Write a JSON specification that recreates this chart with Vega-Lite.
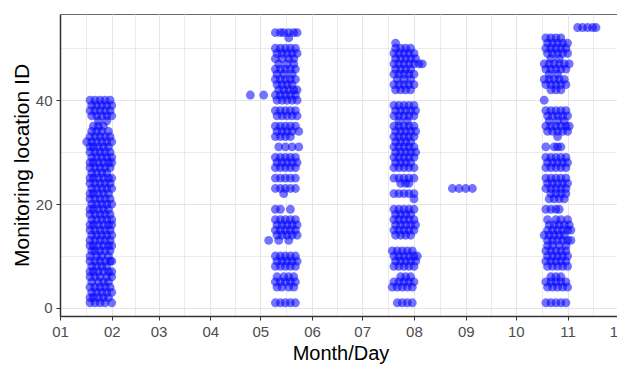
{
  "$schema": "https://vega.github.io/schema/vega-lite/v6.json",
  "width": 561,
  "height": 302,
  "autosize": {"type": "none"},
  "padding": {"left": 60, "top": 14, "right": 0, "bottom": 51},
  "background": "white",
  "config": {
    "font": "Liberation Sans",
    "view": {"stroke": "#6b6b6b", "strokeWidth": 1},
    "axis": {
      "domainColor": "#333333",
      "domainWidth": 1.5,
      "tickColor": "#333333",
      "tickSize": 4,
      "tickWidth": 1,
      "gridColor": "#e6e6e6",
      "gridWidth": 1,
      "labelFont": "Liberation Sans",
      "labelFontSize": 15,
      "labelColor": "#4d4d4d",
      "labelPadding": 4,
      "labelOverlap": false,
      "labelFlush": false,
      "labelBound": false,
      "titleFont": "Liberation Sans",
      "titleFontSize": 20,
      "titleFontWeight": "normal",
      "titleColor": "#000000"
    }
  },
  "data": {
    "values": [
      {"day":18,"id":1},{"day":21,"id":1},{"day":24,"id":1},{"day":27,"id":1},{"day":31,"id":1},
      {"day":18,"id":2},{"day":20,"id":2},{"day":23,"id":2},{"day":26,"id":2},{"day":29,"id":2},
      {"day":19,"id":3},{"day":22,"id":3},{"day":25,"id":3},{"day":28,"id":3},{"day":31,"id":3},
      {"day":18,"id":4},{"day":21,"id":4},{"day":24,"id":4},{"day":27,"id":4},{"day":30,"id":4},
      {"day":19,"id":5},{"day":23,"id":5},{"day":26,"id":5},{"day":29,"id":5},
      {"day":18,"id":6},{"day":21,"id":6},{"day":24,"id":6},{"day":28,"id":6},{"day":31,"id":6},
      {"day":18,"id":7},{"day":20,"id":7},{"day":23,"id":7},{"day":26,"id":7},{"day":29,"id":7},{"day":31,"id":7},
      {"day":19,"id":8},{"day":22,"id":8},{"day":25,"id":8},{"day":28,"id":8},
      {"day":18,"id":9},{"day":21,"id":9},{"day":24,"id":9},{"day":27,"id":9},{"day":30,"id":9},{"day":31,"id":9},
      {"day":18,"id":10},{"day":22,"id":10},{"day":25,"id":10},{"day":29,"id":10},
      {"day":19,"id":11},{"day":21,"id":11},{"day":24,"id":11},{"day":27,"id":11},{"day":30,"id":11},
      {"day":18,"id":12},{"day":20,"id":12},{"day":23,"id":12},{"day":26,"id":12},{"day":29,"id":12},{"day":31,"id":12},
      {"day":18,"id":13},{"day":21,"id":13},{"day":24,"id":13},{"day":27,"id":13},{"day":30,"id":13},
      {"day":19,"id":14},{"day":22,"id":14},{"day":25,"id":14},{"day":28,"id":14},{"day":31,"id":14},
      {"day":18,"id":15},{"day":21,"id":15},{"day":24,"id":15},{"day":27,"id":15},{"day":30,"id":15},
      {"day":18,"id":16},{"day":20,"id":16},{"day":23,"id":16},{"day":26,"id":16},{"day":29,"id":16},{"day":31,"id":16},
      {"day":19,"id":17},{"day":22,"id":17},{"day":25,"id":17},{"day":28,"id":17},{"day":31,"id":17},
      {"day":18,"id":18},{"day":21,"id":18},{"day":24,"id":18},{"day":27,"id":18},{"day":30,"id":18},
      {"day":18,"id":19},{"day":20,"id":19},{"day":23,"id":19},{"day":26,"id":19},{"day":29,"id":19},
      {"day":19,"id":20},{"day":22,"id":20},{"day":25,"id":20},{"day":28,"id":20},{"day":31,"id":20},
      {"day":18,"id":21},{"day":21,"id":21},{"day":24,"id":21},{"day":27,"id":21},{"day":30,"id":21},
      {"day":18,"id":22},{"day":20,"id":22},{"day":23,"id":22},{"day":26,"id":22},{"day":29,"id":22},
      {"day":19,"id":23},{"day":22,"id":23},{"day":25,"id":23},{"day":28,"id":23},{"day":31,"id":23},
      {"day":18,"id":24},{"day":21,"id":24},{"day":24,"id":24},{"day":27,"id":24},{"day":30,"id":24},
      {"day":18,"id":25},{"day":20,"id":25},{"day":23,"id":25},{"day":26,"id":25},{"day":29,"id":25},{"day":31,"id":25},
      {"day":19,"id":26},{"day":22,"id":26},{"day":25,"id":26},{"day":28,"id":26},
      {"day":18,"id":27},{"day":21,"id":27},{"day":24,"id":27},{"day":27,"id":27},{"day":30,"id":27},
      {"day":18,"id":28},{"day":20,"id":28},{"day":23,"id":28},{"day":26,"id":28},{"day":29,"id":28},{"day":31,"id":28},
      {"day":19,"id":29},{"day":22,"id":29},{"day":25,"id":29},{"day":28,"id":29},{"day":31,"id":29},
      {"day":18,"id":30},{"day":21,"id":30},{"day":24,"id":30},{"day":27,"id":30},{"day":30,"id":30},
      {"day":18,"id":31},{"day":20,"id":31},{"day":23,"id":31},{"day":26,"id":31},{"day":29,"id":31},
      {"day":16,"id":32},{"day":19,"id":32},{"day":22,"id":32},{"day":25,"id":32},{"day":28,"id":32},{"day":31,"id":32},
      {"day":18,"id":33},{"day":21,"id":33},{"day":24,"id":33},{"day":27,"id":33},{"day":30,"id":33},
      {"day":19,"id":34},{"day":22,"id":34},{"day":25,"id":34},{"day":29,"id":34},
      {"day":20,"id":35},{"day":23,"id":35},{"day":26,"id":35},
      {"day":23,"id":36},{"day":28,"id":36},
      {"day":19,"id":37},{"day":22,"id":37},{"day":25,"id":37},{"day":28,"id":37},{"day":31,"id":37},
      {"day":18,"id":38},{"day":21,"id":38},{"day":24,"id":38},{"day":27,"id":38},{"day":30,"id":38},
      {"day":19,"id":39},{"day":22,"id":39},{"day":25,"id":39},{"day":28,"id":39},{"day":31,"id":39},
      {"day":18,"id":40},{"day":21,"id":40},{"day":24,"id":40},{"day":27,"id":40},{"day":30,"id":40},

      {"day":114,"id":41},{"day":122,"id":41},{"day":125,"id":13},
      {"day":129,"id":53},{"day":132,"id":53},{"day":134,"id":53},{"day":137,"id":53},{"day":140,"id":53},{"day":142,"id":53},
      {"day":137,"id":52},
      {"day":129,"id":50},{"day":132,"id":50},{"day":135,"id":50},{"day":138,"id":50},{"day":141,"id":50},
      {"day":130,"id":49},{"day":133,"id":49},{"day":136,"id":49},{"day":139,"id":49},{"day":142,"id":49},
      {"day":129,"id":48},{"day":133,"id":48},{"day":137,"id":48},{"day":140,"id":48},
      {"day":131,"id":47},{"day":136,"id":47},{"day":140,"id":47},
      {"day":129,"id":46},{"day":132,"id":46},{"day":135,"id":46},{"day":138,"id":46},{"day":141,"id":46},
      {"day":130,"id":45},{"day":134,"id":45},{"day":139,"id":45},
      {"day":129,"id":44},{"day":132,"id":44},{"day":135,"id":44},{"day":138,"id":44},{"day":141,"id":44},
      {"day":130,"id":43},{"day":133,"id":43},{"day":136,"id":43},{"day":139,"id":43},
      {"day":131,"id":42},{"day":134,"id":42},{"day":137,"id":42},{"day":140,"id":42},{"day":142,"id":42},
      {"day":129,"id":41},{"day":132,"id":41},{"day":135,"id":41},{"day":138,"id":41},{"day":141,"id":41},
      {"day":130,"id":40},{"day":133,"id":40},{"day":136,"id":40},{"day":139,"id":40},{"day":142,"id":40},
      {"day":129,"id":38},{"day":132,"id":38},{"day":135,"id":38},{"day":138,"id":38},{"day":141,"id":38},
      {"day":130,"id":37},{"day":133,"id":37},{"day":136,"id":37},{"day":139,"id":37},{"day":142,"id":37},
      {"day":129,"id":35},{"day":132,"id":35},{"day":135,"id":35},{"day":138,"id":35},{"day":141,"id":35},
      {"day":130,"id":34},{"day":133,"id":34},{"day":136,"id":34},{"day":139,"id":34},{"day":143,"id":34},
      {"day":129,"id":33},{"day":132,"id":33},{"day":135,"id":33},{"day":138,"id":33},
      {"day":131,"id":31},{"day":135,"id":31},{"day":139,"id":31},{"day":143,"id":31},
      {"day":129,"id":29},{"day":132,"id":29},{"day":135,"id":29},{"day":138,"id":29},{"day":141,"id":29},
      {"day":130,"id":28},{"day":133,"id":28},{"day":136,"id":28},{"day":139,"id":28},{"day":142,"id":28},
      {"day":129,"id":27},{"day":132,"id":27},{"day":135,"id":27},{"day":138,"id":27},{"day":141,"id":27},
      {"day":129,"id":25},{"day":132,"id":25},{"day":135,"id":25},{"day":138,"id":25},{"day":141,"id":25},
      {"day":129,"id":23},{"day":132,"id":23},{"day":135,"id":23},{"day":138,"id":23},{"day":141,"id":23},
      {"day":134,"id":22},
      {"day":129,"id":19},{"day":132,"id":19},{"day":138,"id":19},
      {"day":129,"id":17},{"day":132,"id":17},{"day":135,"id":17},{"day":138,"id":17},{"day":141,"id":17},
      {"day":130,"id":16},{"day":133,"id":16},{"day":136,"id":16},{"day":139,"id":16},{"day":142,"id":16},
      {"day":129,"id":15},{"day":132,"id":15},{"day":135,"id":15},{"day":138,"id":15},{"day":141,"id":15},
      {"day":130,"id":14},{"day":133,"id":14},{"day":136,"id":14},{"day":139,"id":14},{"day":142,"id":14},
      {"day":131,"id":13},{"day":137,"id":13},
      {"day":129,"id":10},{"day":132,"id":10},{"day":135,"id":10},{"day":138,"id":10},{"day":141,"id":10},
      {"day":130,"id":9},{"day":133,"id":9},{"day":136,"id":9},{"day":139,"id":9},{"day":142,"id":9},
      {"day":129,"id":8},{"day":132,"id":8},{"day":135,"id":8},{"day":138,"id":8},{"day":141,"id":8},
      {"day":130,"id":6},{"day":134,"id":6},{"day":137,"id":6},{"day":140,"id":6},
      {"day":129,"id":5},{"day":132,"id":5},{"day":135,"id":5},{"day":138,"id":5},{"day":141,"id":5},
      {"day":130,"id":4},{"day":133,"id":4},{"day":137,"id":4},{"day":140,"id":4},
      {"day":129,"id":1},{"day":132,"id":1},{"day":135,"id":1},{"day":138,"id":1},{"day":141,"id":1},

      {"day":201,"id":51},
      {"day":201,"id":50},{"day":204,"id":50},{"day":207,"id":50},{"day":210,"id":50},
      {"day":200,"id":49},{"day":203,"id":49},{"day":206,"id":49},{"day":209,"id":49},{"day":212,"id":49},
      {"day":201,"id":48},{"day":204,"id":48},{"day":207,"id":48},{"day":210,"id":48},{"day":213,"id":48},
      {"day":200,"id":47},{"day":203,"id":47},{"day":206,"id":47},{"day":209,"id":47},{"day":212,"id":47},{"day":215,"id":47},{"day":217,"id":47},
      {"day":201,"id":46},{"day":204,"id":46},{"day":207,"id":46},{"day":210,"id":46},
      {"day":200,"id":45},{"day":203,"id":45},{"day":206,"id":45},{"day":209,"id":45},{"day":212,"id":45},
      {"day":202,"id":44},{"day":206,"id":44},{"day":210,"id":44},
      {"day":200,"id":43},{"day":203,"id":43},{"day":206,"id":43},{"day":209,"id":43},{"day":212,"id":43},
      {"day":201,"id":42},{"day":204,"id":42},{"day":207,"id":42},{"day":210,"id":42},
      {"day":200,"id":39},{"day":203,"id":39},{"day":206,"id":39},{"day":209,"id":39},{"day":212,"id":39},
      {"day":201,"id":38},{"day":204,"id":38},{"day":207,"id":38},{"day":210,"id":38},{"day":213,"id":38},
      {"day":200,"id":37},{"day":203,"id":37},{"day":206,"id":37},{"day":209,"id":37},{"day":212,"id":37},
      {"day":203,"id":36},{"day":208,"id":36},
      {"day":200,"id":35},{"day":203,"id":35},{"day":206,"id":35},{"day":209,"id":35},{"day":212,"id":35},
      {"day":201,"id":34},{"day":204,"id":34},{"day":207,"id":34},{"day":210,"id":34},{"day":213,"id":34},
      {"day":200,"id":33},{"day":203,"id":33},{"day":206,"id":33},{"day":209,"id":33},{"day":212,"id":33},
      {"day":201,"id":32},{"day":204,"id":32},{"day":207,"id":32},{"day":210,"id":32},
      {"day":200,"id":31},{"day":203,"id":31},{"day":206,"id":31},{"day":209,"id":31},{"day":212,"id":31},
      {"day":201,"id":30},{"day":204,"id":30},{"day":207,"id":30},{"day":210,"id":30},{"day":213,"id":30},
      {"day":200,"id":29},{"day":203,"id":29},{"day":206,"id":29},{"day":209,"id":29},{"day":212,"id":29},
      {"day":201,"id":28},{"day":204,"id":28},{"day":207,"id":28},{"day":210,"id":28},
      {"day":200,"id":27},{"day":203,"id":27},{"day":206,"id":27},{"day":209,"id":27},{"day":212,"id":27},
      {"day":200,"id":25},{"day":203,"id":25},{"day":206,"id":25},{"day":209,"id":25},{"day":212,"id":25},
      {"day":204,"id":24},{"day":207,"id":24},{"day":209,"id":24},
      {"day":200,"id":22},{"day":203,"id":22},{"day":206,"id":22},{"day":209,"id":22},{"day":212,"id":22},
      {"day":212,"id":21},
      {"day":200,"id":19},{"day":203,"id":19},{"day":206,"id":19},{"day":209,"id":19},{"day":212,"id":19},
      {"day":201,"id":18},{"day":204,"id":18},{"day":207,"id":18},{"day":210,"id":18},
      {"day":200,"id":17},{"day":203,"id":17},{"day":206,"id":17},{"day":209,"id":17},{"day":212,"id":17},
      {"day":201,"id":16},{"day":204,"id":16},{"day":207,"id":16},{"day":210,"id":16},{"day":213,"id":16},
      {"day":200,"id":15},{"day":203,"id":15},{"day":206,"id":15},{"day":209,"id":15},{"day":212,"id":15},
      {"day":201,"id":14},{"day":204,"id":14},{"day":207,"id":14},{"day":210,"id":14},
      {"day":199,"id":11},{"day":202,"id":11},{"day":205,"id":11},{"day":208,"id":11},{"day":211,"id":11},
      {"day":200,"id":10},{"day":203,"id":10},{"day":206,"id":10},{"day":209,"id":10},{"day":212,"id":10},{"day":214,"id":10},
      {"day":201,"id":9},{"day":204,"id":9},{"day":207,"id":9},{"day":210,"id":9},{"day":213,"id":9},
      {"day":200,"id":8},{"day":203,"id":8},{"day":206,"id":8},{"day":209,"id":8},{"day":212,"id":8},
      {"day":204,"id":6},{"day":207,"id":6},{"day":210,"id":6},
      {"day":200,"id":5},{"day":203,"id":5},{"day":206,"id":5},{"day":209,"id":5},{"day":212,"id":5},
      {"day":199,"id":4},{"day":202,"id":4},{"day":205,"id":4},{"day":208,"id":4},{"day":211,"id":4},
      {"day":202,"id":1},{"day":205,"id":1},{"day":208,"id":1},{"day":211,"id":1},

      {"day":235,"id":23},{"day":239,"id":23},{"day":243,"id":23},{"day":247,"id":23},

      {"day":291,"id":52},{"day":294,"id":52},{"day":297,"id":52},{"day":300,"id":52},
      {"day":292,"id":51},{"day":295,"id":51},{"day":298,"id":51},{"day":301,"id":51},{"day":304,"id":51},
      {"day":291,"id":50},{"day":294,"id":50},{"day":297,"id":50},{"day":300,"id":50},{"day":303,"id":50},
      {"day":292,"id":49},{"day":295,"id":49},{"day":298,"id":49},{"day":301,"id":49},{"day":304,"id":49},
      {"day":294,"id":48},{"day":299,"id":48},
      {"day":290,"id":47},{"day":293,"id":47},{"day":296,"id":47},{"day":299,"id":47},{"day":302,"id":47},{"day":305,"id":47},
      {"day":291,"id":46},{"day":294,"id":46},{"day":297,"id":46},{"day":300,"id":46},{"day":303,"id":46},
      {"day":293,"id":45},{"day":298,"id":45},
      {"day":290,"id":44},{"day":293,"id":44},{"day":296,"id":44},{"day":299,"id":44},{"day":302,"id":44},
      {"day":291,"id":43},{"day":294,"id":43},{"day":297,"id":43},{"day":300,"id":43},{"day":303,"id":43},
      {"day":294,"id":42},{"day":297,"id":42},{"day":300,"id":42},
      {"day":290,"id":40},
      {"day":291,"id":38},{"day":294,"id":38},{"day":297,"id":38},{"day":300,"id":38},{"day":303,"id":38},
      {"day":292,"id":37},{"day":295,"id":37},{"day":298,"id":37},{"day":301,"id":37},{"day":304,"id":37},
      {"day":293,"id":36},{"day":298,"id":36},{"day":302,"id":36},
      {"day":291,"id":35},{"day":294,"id":35},{"day":297,"id":35},{"day":300,"id":35},{"day":303,"id":35},{"day":305,"id":35},
      {"day":292,"id":34},{"day":295,"id":34},{"day":298,"id":34},{"day":301,"id":34},{"day":304,"id":34},
      {"day":298,"id":33},
      {"day":291,"id":31},{"day":296,"id":31},{"day":298,"id":31},{"day":300,"id":31},
      {"day":291,"id":29},{"day":294,"id":29},{"day":297,"id":29},{"day":300,"id":29},{"day":303,"id":29},
      {"day":292,"id":28},{"day":295,"id":28},{"day":298,"id":28},{"day":301,"id":28},{"day":304,"id":28},
      {"day":291,"id":27},{"day":294,"id":27},{"day":297,"id":27},{"day":300,"id":27},{"day":303,"id":27},
      {"day":291,"id":25},{"day":294,"id":25},{"day":297,"id":25},{"day":300,"id":25},{"day":303,"id":25},
      {"day":292,"id":24},{"day":295,"id":24},{"day":298,"id":24},{"day":301,"id":24},{"day":304,"id":24},
      {"day":291,"id":23},{"day":294,"id":23},{"day":297,"id":23},{"day":300,"id":23},{"day":303,"id":23},
      {"day":294,"id":22},{"day":297,"id":22},{"day":300,"id":22},{"day":303,"id":22},
      {"day":293,"id":21},{"day":296,"id":21},{"day":299,"id":21},{"day":302,"id":21},
      {"day":291,"id":19},{"day":294,"id":19},{"day":297,"id":19},{"day":299,"id":19},
      {"day":292,"id":17},{"day":297,"id":17},{"day":300,"id":17},{"day":304,"id":17},
      {"day":293,"id":16},{"day":296,"id":16},{"day":299,"id":16},{"day":302,"id":16},{"day":305,"id":16},
      {"day":292,"id":15},{"day":295,"id":15},{"day":298,"id":15},{"day":301,"id":15},{"day":304,"id":15},{"day":306,"id":15},
      {"day":290,"id":14},{"day":293,"id":14},{"day":296,"id":14},{"day":299,"id":14},{"day":302,"id":14},
      {"day":292,"id":13},{"day":295,"id":13},{"day":298,"id":13},{"day":301,"id":13},{"day":304,"id":13},{"day":306,"id":13},
      {"day":292,"id":12},{"day":295,"id":12},{"day":299,"id":12},{"day":303,"id":12},
      {"day":291,"id":11},{"day":294,"id":11},{"day":297,"id":11},{"day":300,"id":11},{"day":303,"id":11},
      {"day":292,"id":10},{"day":295,"id":10},{"day":298,"id":10},{"day":301,"id":10},{"day":304,"id":10},
      {"day":291,"id":9},{"day":294,"id":9},{"day":297,"id":9},{"day":300,"id":9},{"day":303,"id":9},
      {"day":292,"id":8},{"day":295,"id":8},{"day":298,"id":8},{"day":301,"id":8},{"day":304,"id":8},
      {"day":294,"id":6},{"day":297,"id":6},{"day":300,"id":6},
      {"day":291,"id":5},{"day":294,"id":5},{"day":297,"id":5},{"day":300,"id":5},{"day":303,"id":5},
      {"day":292,"id":4},{"day":295,"id":4},{"day":298,"id":4},{"day":301,"id":4},{"day":304,"id":4},
      {"day":291,"id":1},{"day":294,"id":1},{"day":297,"id":1},{"day":300,"id":1},{"day":303,"id":1},

      {"day":310,"id":54},{"day":313,"id":54},{"day":316,"id":54},{"day":319,"id":54},{"day":321,"id":54}
    ]
  },
  "mark": {"type": "circle", "color": "#0000ff", "opacity": 0.55, "size": 78},
  "encoding": {
    "x": {
      "field": "day",
      "type": "quantitative",
      "scale": {"domain": [0, 336], "nice": false, "zero": false},
      "axis": {
        "title": "Month/Day",
        "titlePadding": 4,
        "values": [0, 15.5, 31, 45, 59, 74.5, 90, 105, 120, 135.5, 151, 166, 181, 196.5, 212, 227.5, 243, 258, 273, 288.5, 304, 319, 334],
        "labelExpr": "indexof([0,31,59,90,120,151,181,212,243,273,304,334], datum.value) >= 0 ? timeFormat(datetime(2019, 0, 1 + datum.value), '%m') : ''",
        "tickOpacity": {"condition": {"test": "indexof([0,31,59,90,120,151,181,212,243,273,304,334], datum.value) >= 0", "value": 1}, "value": 0},
        "gridWidth": {"condition": {"test": "indexof([0,31,59,90,120,151,181,212,243,273,304,334], datum.value) >= 0", "value": 1.1}, "value": 0.8}
      }
    },
    "y": {
      "field": "id",
      "type": "quantitative",
      "scale": {"domain": [-1.55, 56.6], "nice": false, "zero": false},
      "axis": {
        "title": "Monitoring location ID",
        "titleFontSize": 21,
        "titlePadding": 3,
        "values": [0, 10, 20, 30, 40, 50],
        "labelExpr": "datum.value % 20 === 0 ? datum.label : ''",
        "tickOpacity": {"condition": {"test": "datum.value % 20 === 0", "value": 1}, "value": 0},
        "gridWidth": {"condition": {"test": "datum.value % 20 === 0", "value": 1.1}, "value": 0.8}
      }
    }
  }
}
